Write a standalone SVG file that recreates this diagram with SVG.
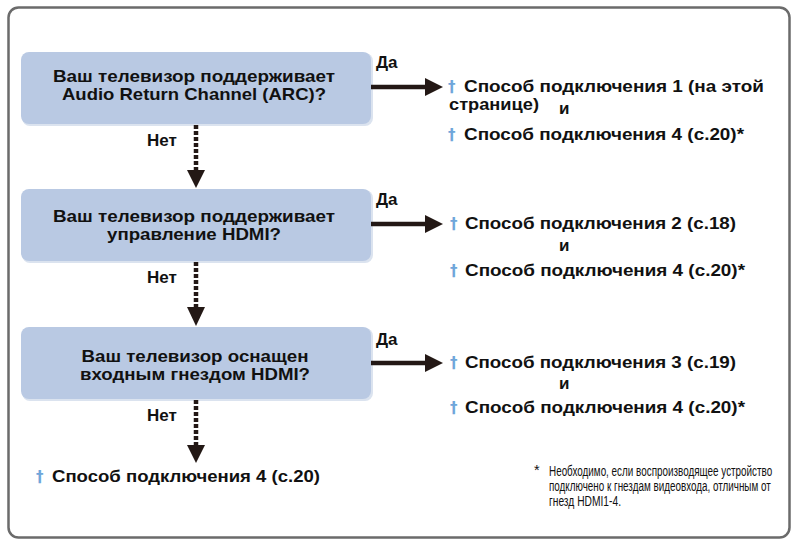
<svg xmlns="http://www.w3.org/2000/svg" width="791" height="541" viewBox="0 0 791 541">
<defs>
<style>
.box{fill:#b9c9e3;}
.shadow{fill:#dbe3ef;}
.q{font-family:"Liberation Sans",Arial,sans-serif;font-weight:bold;font-size:17px;fill:#111;text-anchor:middle;}
.lbl{font-family:"Liberation Sans",Arial,sans-serif;font-weight:bold;font-size:17px;fill:#111;}
.res{font-family:"Liberation Sans",Arial,sans-serif;font-weight:bold;font-size:17px;fill:#111;}
.dag{font-family:"DejaVu Sans",sans-serif;font-weight:bold;font-size:15px;fill:#6fa6da;}
.note{font-family:"Liberation Sans",Arial,sans-serif;font-size:14.5px;fill:#111;}
.dash{stroke:#231815;stroke-width:4.5;stroke-dasharray:4 2;fill:none;}
.solid{stroke:#231815;stroke-width:4.5;fill:none;}
.head{fill:#231815;}
</style>
</defs>
<rect x="8.5" y="7.5" width="781" height="530" rx="10" fill="#fff" stroke="#6b6b6b" stroke-width="2.5"/>

<g id="node-q1">
<rect class="shadow" x="22" y="53" width="351" height="73" rx="8"/>
<rect class="box" x="21" y="52" width="350" height="72" rx="8"/>
<text class="q" x="194" y="82" textLength="282" lengthAdjust="spacingAndGlyphs">Ваш телевизор поддерживает</text>
<text class="q" x="194" y="100" textLength="264" lengthAdjust="spacingAndGlyphs">Audio Return Channel (ARC)?</text>
</g>
<g id="node-q2">
<rect class="shadow" x="22" y="190" width="351" height="73" rx="8"/>
<rect class="box" x="21" y="189" width="350" height="72" rx="8"/>
<text class="q" x="194" y="222" textLength="282" lengthAdjust="spacingAndGlyphs">Ваш телевизор поддерживает</text>
<text class="q" x="194" y="240" textLength="174" lengthAdjust="spacingAndGlyphs">управление HDMI?</text>
</g>
<g id="node-q3">
<rect class="shadow" x="22" y="328" width="351" height="73" rx="8"/>
<rect class="box" x="21" y="327" width="350" height="72" rx="8"/>
<text class="q" x="195" y="362" textLength="227" lengthAdjust="spacingAndGlyphs">Ваш телевизор оснащен</text>
<text class="q" x="195" y="380" textLength="230" lengthAdjust="spacingAndGlyphs">входным гнездом HDMI?</text>
</g>

<g id="node-r1">
<text class="dag" x="448" y="92">†</text>
<text class="res" x="464" y="92" textLength="300" lengthAdjust="spacingAndGlyphs">Способ подключения 1 (на этой</text>
<text class="res" x="449" y="110" textLength="90" lengthAdjust="spacingAndGlyphs">странице)</text>
<text class="res" x="559" y="114">и</text>
<text class="dag" x="448" y="140">†</text>
<text class="res" x="464" y="140" textLength="280" lengthAdjust="spacingAndGlyphs">Способ подключения 4 (с.20)*</text>
</g>
<g id="node-r2">
<text class="dag" x="450" y="229">†</text>
<text class="res" x="465" y="229" textLength="271" lengthAdjust="spacingAndGlyphs">Способ подключения 2 (с.18)</text>
<text class="res" x="559" y="251">и</text>
<text class="dag" x="450" y="276">†</text>
<text class="res" x="465" y="276" textLength="280" lengthAdjust="spacingAndGlyphs">Способ подключения 4 (с.20)*</text>
</g>
<g id="node-r3">
<text class="dag" x="450" y="368">†</text>
<text class="res" x="465" y="368" textLength="271" lengthAdjust="spacingAndGlyphs">Способ подключения 3 (с.19)</text>
<text class="res" x="559" y="389">и</text>
<text class="dag" x="450" y="413">†</text>
<text class="res" x="465" y="413" textLength="280" lengthAdjust="spacingAndGlyphs">Способ подключения 4 (с.20)*</text>
</g>
<g id="node-r4">
<text class="dag" x="36" y="482">†</text>
<text class="res" x="52" y="482" textLength="268" lengthAdjust="spacingAndGlyphs">Способ подключения 4 (с.20)</text>
</g>
<g id="node-note">
<text class="note" x="534" y="475">*</text>
<text class="note" transform="translate(549,476) scale(0.72,1)" x="0" y="0" textLength="310" lengthAdjust="spacingAndGlyphs">Необходимо, если воспроизводящее устройство</text>
<text class="note" transform="translate(549,491) scale(0.72,1)" x="0" y="0" textLength="308" lengthAdjust="spacingAndGlyphs">подключено к гнездам видеовхода, отличным от</text>
<text class="note" transform="translate(549,506) scale(0.72,1)" x="0" y="0" textLength="100" lengthAdjust="spacingAndGlyphs">гнезд HDMI1-4.</text>
</g>

<g id="connectors">
<line class="solid" x1="371" y1="87" x2="427" y2="87"/>
<polygon class="head" points="425,78 443,87 425,96"/>
<text class="lbl" x="376" y="68">Да</text>
<line class="solid" x1="371" y1="224" x2="427" y2="224"/>
<polygon class="head" points="425,215 443,224 425,233"/>
<text class="lbl" x="376" y="205">Да</text>
<line class="solid" x1="371" y1="363" x2="427" y2="363"/>
<polygon class="head" points="425,354 443,363 425,372"/>
<text class="lbl" x="376" y="345">Да</text>

<line class="dash" x1="196" y1="125" x2="196" y2="171"/>
<polygon class="head" points="187,170 205,170 196,188"/>
<text class="lbl" x="147" y="146">Нет</text>
<line class="dash" x1="196" y1="262" x2="196" y2="308"/>
<polygon class="head" points="187,307 205,307 196,326"/>
<text class="lbl" x="147" y="283">Нет</text>
<line class="dash" x1="196" y1="400" x2="196" y2="446"/>
<polygon class="head" points="187,445 205,445 196,463"/>
<text class="lbl" x="147" y="421">Нет</text>
</g>
</svg>
